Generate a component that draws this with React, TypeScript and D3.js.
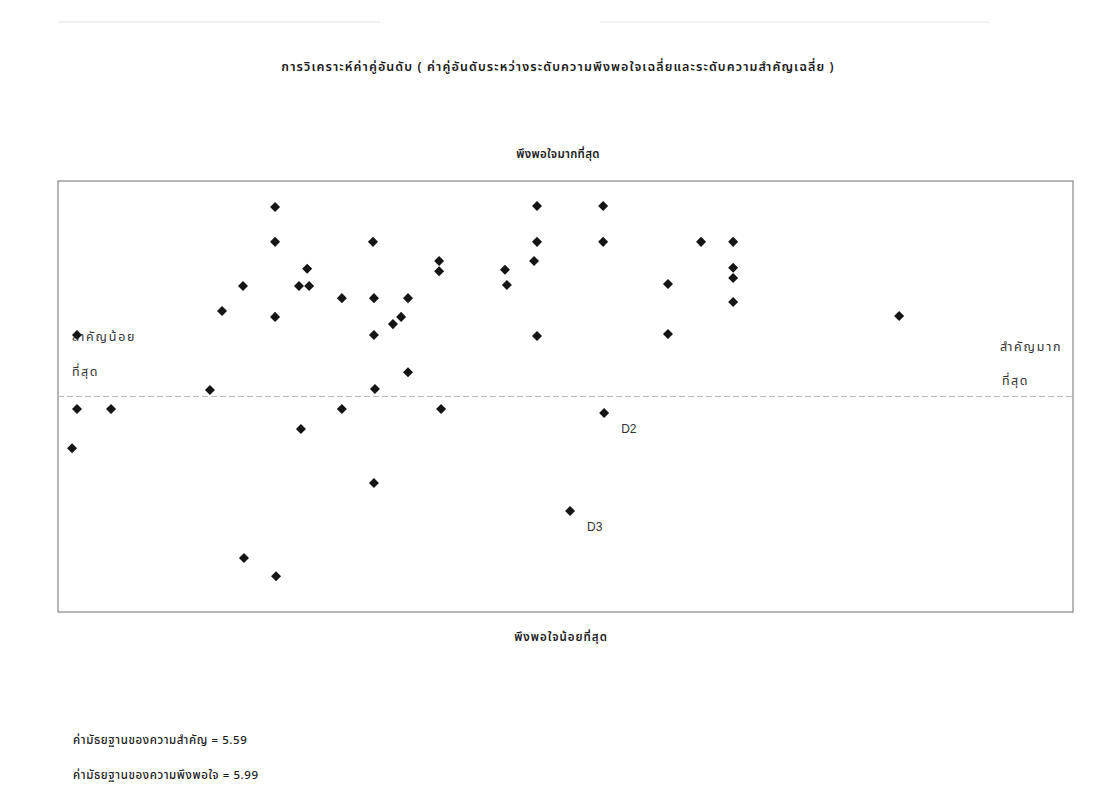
import React from "react";
import * as d3 from "d3";

const importance: number[] = [
  5.163, 5.163, 5.462, 5.664, 5.664, 5.261, 5.065, 5.236, 5.267, 5.367,
  5.465, 5.569, 5.001, 5.163, 5.548, 5.523, 5.465, 5.569, 4.964, 5.468,
  5.367, 5.670, 5.242, 5.963, 6.165, 5.963, 6.165, 6.464, 6.562, 5.865,
  5.871, 5.954, 6.363, 6.562, 6.562, 6.562, 5.963, 6.363, 7.069, 4.558,
  4.558, 4.662, 4.543, 6.168, 6.064, 5.465, 5.068, 5.166,
];
const satisfaction: number[] = [
  6.566, 6.460, 6.460, 6.402, 6.371, 6.378, 6.326, 6.326, 6.326, 6.289,
  6.289, 6.289, 6.250, 6.232, 6.232, 6.210, 6.177, 6.064, 6.010, 6.013,
  5.952, 5.952, 5.891, 6.569, 6.569, 6.460, 6.460, 6.460, 6.460, 6.375,
  6.329, 6.402, 6.332, 6.381, 6.350, 6.277, 6.174, 6.180, 6.235, 6.177,
  5.952, 5.952, 5.833, 5.940, 5.642, 5.727, 5.499, 5.444,
];
const pointLabels: string[] = [
  "", "", "", "", "", "", "", "", "", "",
  "", "", "", "", "", "", "", "", "", "",
  "", "", "", "", "", "", "", "", "", "",
  "", "", "", "", "", "", "", "", "", "",
  "", "", "", "D2", "D3", "", "", "",
];
const xDomain: [number, number] = [4.5, 7.6];
const yDomain: [number, number] = [5.335, 6.645];
const meanSatisfaction = 5.99;
const medianImportance = 5.59;

const title =
  "การวิเคราะห์ค่าคู่อันดับ ( ค่าคู่อันดับระหว่างระดับความพึงพอใจเฉลี่ยและระดับความสำคัญเฉลี่ย )";
const topLabel = "พึงพอใจมากที่สุด";
const bottomLabel = "พึงพอใจน้อยที่สุด";
const leftLabel = ["สำคัญน้อย", "ที่สุด"];
const rightLabel = ["สำคัญมาก", "ที่สุด"];
const footnotes = [
  `ค่ามัธยฐานของความสำคัญ = ${medianImportance.toFixed(2)}`,
  `ค่ามัธยฐานของความพึงพอใจ = ${meanSatisfaction.toFixed(2)}`,
];

const W = 1115;
const H = 802;
const plot = { left: 58, top: 181, right: 1073, bottom: 612 };
const thaiFont = "'Noto Sans Thai', 'Noto Sans', Tahoma, 'DejaVu Sans', sans-serif";

export default function App() {
  const x = d3.scaleLinear().domain(xDomain).range([plot.left, plot.right]);
  const y = d3.scaleLinear().domain(yDomain).range([plot.bottom, plot.top]);
  const diamond = d3.symbol().type(d3.symbolDiamond2).size(64)();
  const data = importance.map((v, i) => ({ x: v, y: satisfaction[i], label: pointLabels[i] }));
  const midY = y(meanSatisfaction);
  const cx = 558;

  return (
    <svg
      width={W}
      height={H}
      style={{ position: "absolute", left: 0, top: 0, background: "#fff" }}
      fontFamily={thaiFont}
    >
      <rect x={0} y={0} width={W} height={H} fill="#fff" />
      <line x1={58} x2={380} y1={22} y2={22} stroke="#e2e2e2" strokeWidth={1} />
      <line x1={600} x2={990} y1={22} y2={22} stroke="#e6e6e6" strokeWidth={1} />

      <text x={cx} y={71} textAnchor="middle" fontSize={12.5} letterSpacing={1.1} fontWeight={600} fill="#1a1a1a">
        {title}
      </text>
      <text x={cx} y={158} textAnchor="middle" fontSize={11.5} letterSpacing={0.3} fontWeight={600} fill="#1a1a1a">
        {topLabel}
      </text>
      <text x={561} y={641} textAnchor="middle" fontSize={11.5} letterSpacing={1} fontWeight={600} fill="#1a1a1a">
        {bottomLabel}
      </text>

      <rect
        x={plot.left}
        y={plot.top}
        width={plot.right - plot.left}
        height={plot.bottom - plot.top}
        fill="none"
        stroke="#6e6e6e"
        strokeWidth={1}
      />
      <line
        x1={plot.left}
        x2={plot.right}
        y1={midY}
        y2={midY}
        stroke="#b8b8b8"
        strokeWidth={1}
        strokeDasharray="6,3"
      />

      <text x={72} y={341} fontSize={12.5} letterSpacing={1.8} fill="#333">{leftLabel[0]}</text>
      <text x={72} y={376} fontSize={12.5} letterSpacing={1.5} fill="#333">{leftLabel[1]}</text>
      <text x={1000} y={351} fontSize={12.5} letterSpacing={1.8} fill="#333">{rightLabel[0]}</text>
      <text x={1002} y={385} fontSize={12.5} letterSpacing={1.5} fill="#333">{rightLabel[1]}</text>

      {data.map((d, i) => (
        <g key={i} transform={`translate(${x(d.x)},${y(d.y)})`}>
          <path d={diamond || ""} fill="#151515" />
          {d.label && (
            <text x={17} y={20} fontSize={12} fill="#333" fontFamily="Arial, 'Liberation Sans', sans-serif">
              {d.label}
            </text>
          )}
        </g>
      ))}

      {footnotes.map((t, i) => (
        <text key={i} x={73} y={744 + i * 35} fontSize={11.5} letterSpacing={0.6} fontWeight={500} fill="#1a1a1a">
          {t}
        </text>
      ))}
    </svg>
  );
}
